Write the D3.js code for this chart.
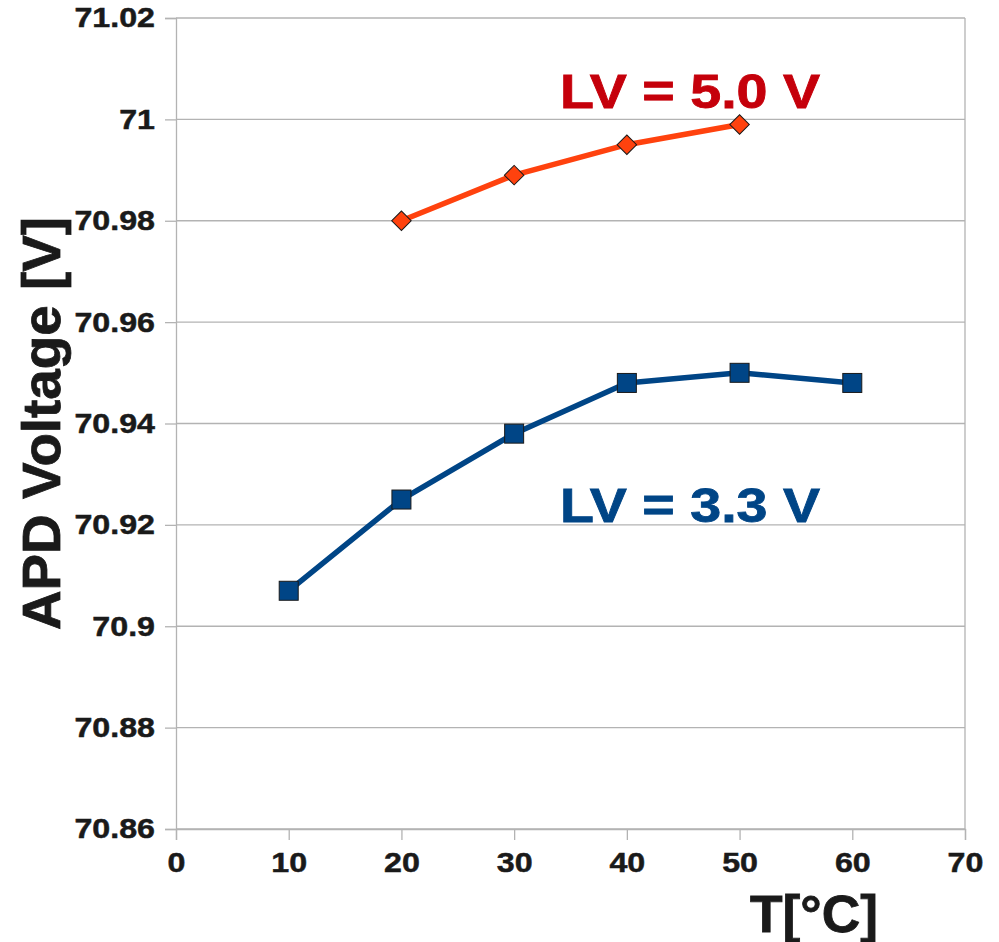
<!DOCTYPE html>
<html>
<head>
<meta charset="utf-8">
<script src="https://cdn.jsdelivr.net/npm/d3@7"></script>
<style>
  body { margin: 0; background: #fff; }
  text { font-family: "Liberation Sans", Arial, sans-serif; font-weight: bold; }
</style>
</head>
<body>
<svg id="chart" width="999" height="942"></svg>
<script>
// temperatures and APD voltages
const tempLV50 = [20, 30, 40, 50];
const voltLV50 = [70.980, 70.989, 70.995, 70.999];
const tempLV33 = [10, 20, 30, 40, 50, 60];
const voltLV33 = [70.907, 70.925, 70.938, 70.948, 70.950, 70.948];

const xTicks = [0, 10, 20, 30, 40, 50, 60, 70];
const yTicks = [70.86, 70.88, 70.9, 70.92, 70.94, 70.96, 70.98, 71, 71.02];

const margin = { left: 176, right: 34, top: 18, bottom: 113 };
const svg = d3.select('#chart');
const width = +svg.attr('width');
const height = +svg.attr('height');

const x = d3.scaleLinear().domain([0, 70]).range([margin.left, width - margin.right]);
const y = d3.scaleLinear().domain([70.86, 71.02]).range([height - margin.bottom, margin.top]);

const grid = '#b3b3b3';
const ink = '#1a1a1a';
const stretch = 1.15; // the original bold face is wider than Liberation

// horizontal grid lines
svg.append('g').selectAll('line')
    .data(yTicks)
  .enter().append('line')
    .attr('x1', x(0)).attr('x2', x(70))
    .attr('y1', d => y(d)).attr('y2', d => y(d))
    .attr('stroke', grid).attr('stroke-width', 1.3);

// right border
svg.append('line')
    .attr('x1', x(70)).attr('x2', x(70))
    .attr('y1', y(71.02)).attr('y2', y(70.86))
    .attr('stroke', grid).attr('stroke-width', 1.3);

// y axis
const yAxis = svg.append('g')
    .attr('transform', `translate(${x(0)},0)`)
    .call(d3.axisLeft(y).tickValues(yTicks).tickSize(11).tickPadding(10)
      .tickFormat(d => d3.format('')(+d.toFixed(2))));
// x axis
const xAxis = svg.append('g')
    .attr('transform', `translate(0,${y(70.86)})`)
    .call(d3.axisBottom(x).tickValues(xTicks).tickSize(11).tickPadding(12));

[xAxis, yAxis].forEach(ax => {
  ax.select('.domain').attr('stroke', grid).attr('stroke-width', 1.3);
  ax.selectAll('.tick line').attr('stroke', grid).attr('stroke-width', 1.3);
  ax.selectAll('.tick text')
    .attr('fill', ink)
    .attr('stroke', ink)
    .attr('stroke-width', 0.5)
    .style('font-size', '28px')
    .style('font-family', '"Liberation Sans", Arial, sans-serif')
    .style('font-weight', 'bold');
});
yAxis.selectAll('.tick text')
    .attr('x', 0)
    .attr('transform', `translate(-21,0) scale(${stretch},1)`);
xAxis.selectAll('.tick text')
    .attr('transform', `scale(${stretch},1)`);

// axis titles
svg.append('text')
    .attr('x', 750).attr('y', 932)
    .attr('textLength', 128)
    .attr('lengthAdjust', 'spacingAndGlyphs')
    .attr('fill', ink)
    .attr('stroke', ink).attr('stroke-width', 0.8)
    .style('font-size', '52px')
    .text('T[°C]');

svg.append('text')
    .attr('transform', 'translate(60,630) rotate(-90)')
    .attr('textLength', 413)
    .attr('lengthAdjust', 'spacingAndGlyphs')
    .attr('fill', ink)
    .attr('stroke', ink).attr('stroke-width', 0.8)
    .style('font-size', '54px')
    .text('APD Voltage [V]');

const line = d3.line().x(d => x(d[0])).y(d => y(d[1]));

// LV = 3.3 V series
const s33 = d3.zip(tempLV33, voltLV33);
svg.append('path')
    .datum(s33)
    .attr('d', line)
    .attr('fill', 'none')
    .attr('stroke', '#004586')
    .attr('stroke-width', 5.5)
    .attr('stroke-linejoin', 'round');
svg.append('g').selectAll('rect')
    .data(s33)
  .enter().append('rect')
    .attr('x', d => x(d[0]) - 9.5)
    .attr('y', d => y(d[1]) - 9.5)
    .attr('width', 19).attr('height', 19)
    .attr('fill', '#004586')
    .attr('stroke', '#1a1a1a')
    .attr('stroke-width', 1);

// LV = 5.0 V series
const s50 = d3.zip(tempLV50, voltLV50);
svg.append('path')
    .datum(s50)
    .attr('d', line)
    .attr('fill', 'none')
    .attr('stroke', '#ff420e')
    .attr('stroke-width', 5.5)
    .attr('stroke-linejoin', 'round');
svg.append('g').selectAll('path.marker')
    .data(s50)
  .enter().append('path')
    .attr('class', 'marker')
    .attr('d', d3.symbol().type(d3.symbolSquare).size(190))
    .attr('transform', d => `translate(${x(d[0])},${y(d[1])}) rotate(45)`)
    .attr('fill', '#ff420e')
    .attr('stroke', '#1a1a1a')
    .attr('stroke-width', 1);

// series labels
svg.append('text')
    .attr('x', 560).attr('y', 108)
    .attr('textLength', 260)
    .attr('lengthAdjust', 'spacingAndGlyphs')
    .attr('fill', '#c5000b')
    .attr('stroke', '#c5000b').attr('stroke-width', 0.8)
    .style('font-size', '48px')
    .text('LV = 5.0 V');

svg.append('text')
    .attr('x', 560).attr('y', 522)
    .attr('textLength', 260)
    .attr('lengthAdjust', 'spacingAndGlyphs')
    .attr('fill', '#004586')
    .attr('stroke', '#004586').attr('stroke-width', 0.8)
    .style('font-size', '48px')
    .text('LV = 3.3 V');
</script>
</body>
</html>
